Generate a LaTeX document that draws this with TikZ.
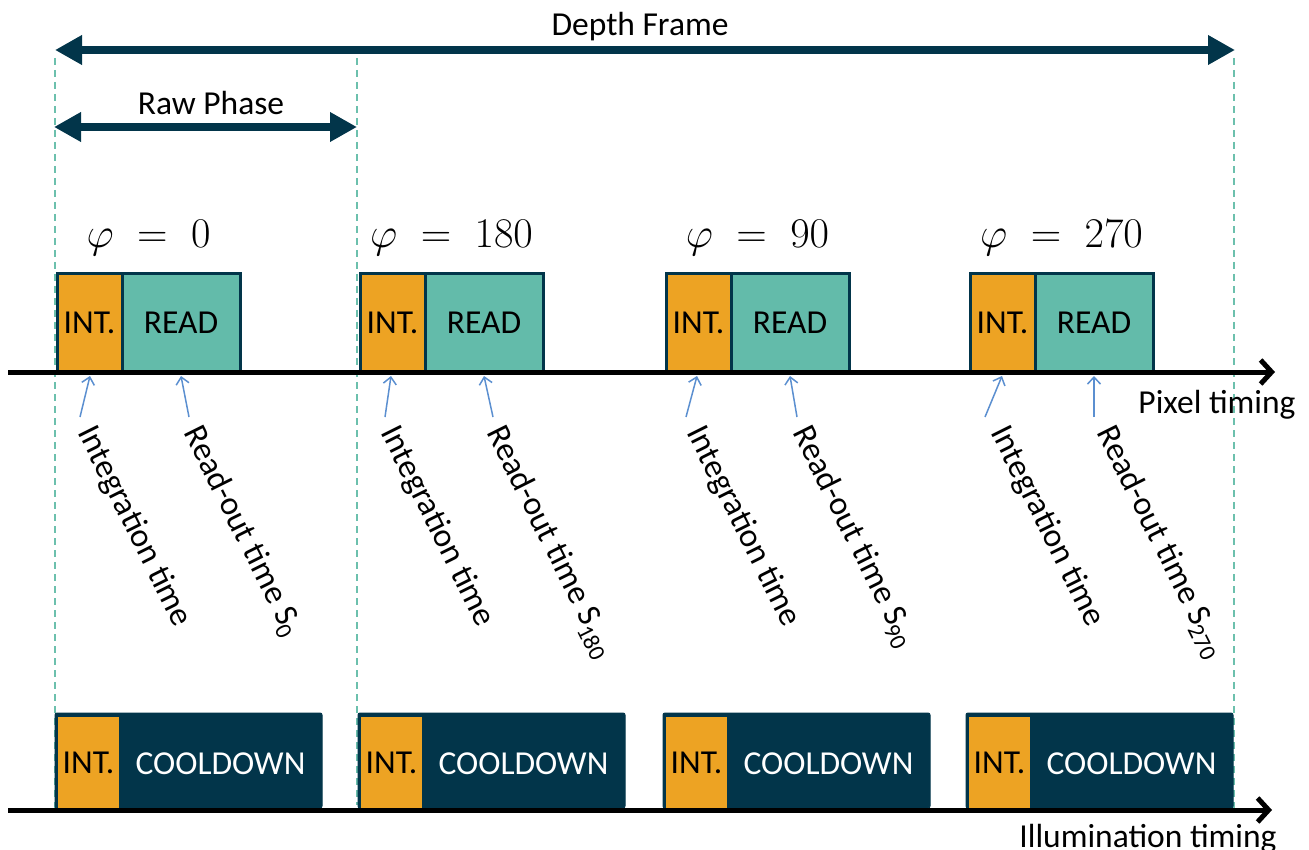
\documentclass[tikz,border=0pt]{standalone}
\usepackage{fontspec}
\setmainfont{Carlito}
\usetikzlibrary{arrows.meta,calc}
\definecolor{navy}{HTML}{02354A}
\definecolor{intorange}{HTML}{EDA323}
\definecolor{readteal}{HTML}{63BBAA}
\definecolor{guideteal}{HTML}{6CC0AD}
\definecolor{ptrblue}{HTML}{5B8FD0}
\begin{document}
\begin{tikzpicture}[x=1pt,y=-1pt,
  txt/.style={font=\fontsize{33.5}{38}\selectfont, inner sep=0pt, outer sep=0pt},
  frame/.style={draw=navy, line width=8pt, {Triangle[length=27pt,width=28pt]}-{Triangle[length=27pt,width=28pt]}, shorten <=0pt},
  guide/.style={draw=guideteal, line width=1.3pt, dash pattern=on 7pt off 5pt},
  axis/.style={draw=black, line width=5pt, -{Straight Barb[length=11pt,width=24pt]}},
  intbox/.style={txt, fill=intorange, draw=navy, line width=3pt, minimum height=98pt, minimum width=65pt, anchor=south west},
  readbox/.style={txt, fill=readteal, draw=navy, line width=3pt, minimum height=98pt, minimum width=118pt, anchor=south west},
  coolbox/.style={fill=navy, draw=navy, line width=1pt, rounded corners=2pt, minimum height=95pt, minimum width=267pt, anchor=south west, inner sep=0pt, outer sep=0pt},
  bintbox/.style={txt, fill=intorange, minimum height=91pt, minimum width=61pt, anchor=south west},
  phlabel/.style={font=\Huge, scale=1.7, inner sep=0pt},
  ptr/.style={draw=ptrblue, line width=1.5pt, -{Straight Barb[length=7pt,width=13pt]}},
  rotlabel/.style={txt, rotate=-63.5, anchor=north west}
]
\useasboundingbox (0,0) rectangle (1309,850);

% guides
\coordinate (g1a) at (55,58);  \coordinate (g1b) at (55,808);
\coordinate (g2a) at (357,58); \coordinate (g2b) at (357,805);
\coordinate (g3a) at (1234,58);\coordinate (g3b) at (1234,808);
\draw[guide] (g1a) -- (g1b);
\draw[guide] (g2a) -- (g2b);
\draw[guide] (g3a) -- (g3b);

% depth frame and raw phase
\coordinate (dfL) at (55,50); \coordinate (dfR) at (1235,50);
\draw[frame] (dfL) -- (dfR);
\node[txt] (dflabel) at (640,27) {Depth Frame};
\coordinate (rpL) at (54,127); \coordinate (rpR) at (357,127);
\draw[frame] (rpL) -- (rpR);
\node[txt] (rplabel) at (211,103) {Raw Phase};

% pixel timing boxes
\foreach \i/\tx/\ph/\sub/\ia/\ib/\ra in {1/57/0/0/23/33/8, 2/360/180/180/25/31/9, 3/666/90/90/20/31/7, 4/970/270/270/15/32/0}{
  \node[intbox] (int\i) at (\tx,372) {INT.};
  \node[readbox] (read\i) at (int\i.south east) {READ};
  \node[phlabel] (phi\i) at ($(int\i.north west)!0.5!(read\i.north east)+(0,-36)$) {$\varphi\;=\;\ph$};
  \coordinate (ias\i) at (\tx+\ia,417);
  \coordinate (iae\i) at (\tx+\ib,376);
  \draw[ptr] (ias\i) -- (iae\i);
  \coordinate (ras\i) at (\tx+124+\ra,417);
  \coordinate (rae\i) at (\tx+124,376);
  \draw[ptr] (ras\i) -- (rae\i);
  \node[rotlabel] (il\i) at (\tx+41,422) {Integration time};
  \node[rotlabel] (rl\i) at (\tx+147,422) {Read-out time S\textsubscript{\sub}};
}

% illumination boxes
\foreach \i/\bx in {1/55, 2/358, 3/663, 4/966}{
  \node[coolbox] (cool\i) at (\bx,808) {};
  \node[bintbox] (bint\i) at (\bx+3,808) {INT.};
  \node[txt, text=white] (cd\i) at ($(bint\i.east)!0.5!(cool\i.east)+(0,2)$) {COOLDOWN};
}

% timelines
\coordinate (px0) at (8,372); \coordinate (px1) at (1275,372);
\draw[axis] (px0) -- (px1);
\node[txt] (pxlabel) at (1217,405) {Pixel timing};
\coordinate (il0) at (8,810); \coordinate (il1) at (1272,810);
\draw[axis] (il0) -- (il1);
\node[txt, anchor=base] (illabel) at (1148,847) {Illumination timing};
\end{tikzpicture}
\end{document}
